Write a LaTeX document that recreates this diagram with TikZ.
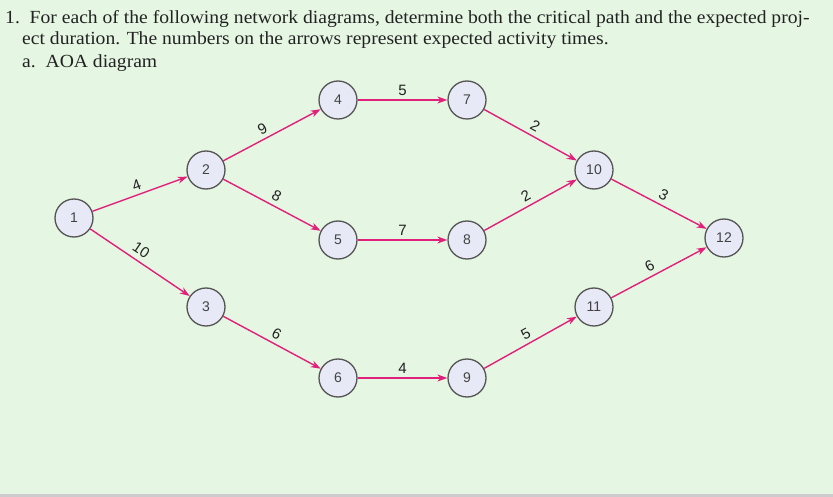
\documentclass[tikz,border=0pt]{standalone}
\usepackage{fontspec}
\setmainfont{Liberation Serif}[FakeStretch=1.06]
\newfontfamily\lblfont{Liberation Sans}
\usetikzlibrary{arrows.meta}
\definecolor{bgc}{HTML}{E5F6E3}
\definecolor{nodefill}{HTML}{E8E9F6}
\definecolor{nodeline}{HTML}{555555}
\definecolor{arrc}{HTML}{E0207A}
\definecolor{txt}{HTML}{222222}
\tikzset{
  ev/.style={circle, draw=nodeline, fill=nodefill, line width=1.3pt, minimum size=38pt, inner sep=0pt, font=\lblfont\fontsize{14}{14}\selectfont, text=txt!85},
  act/.style={draw=arrc, line width=1.4pt, -{Stealth[length=10pt,width=7pt]}},
  lab/.style={font=\lblfont\fontsize{15}{15}\selectfont, text=txt, sloped, above, inner sep=4pt},
  para/.style={anchor=base west, inner sep=0pt, font=\fontsize{18.5}{20}\selectfont, text=txt}
}
\begin{document}
\begin{tikzpicture}[x=1pt,y=-1pt]
\useasboundingbox (0,0) rectangle (833,497);
\fill[bgc] (0,0) rectangle (833,497);
\fill[black!20] (0,494) rectangle (833,497);
\node[para] (l1) at (5,24) {1.\ \ For each of the following network diagrams, determine both the critical path and the expected proj-};
\node[para] (l2) at (22,45) {ect duration. The numbers on the arrows represent expected activity times.};
\node[para] (l3) at (22,68) {a.\ \ AOA diagram};
\node[ev] (n1) at (74,218) {1};
\node[ev] (n2) at (206,170) {2};
\node[ev] (n3) at (206,307) {3};
\node[ev] (n4) at (338,100) {4};
\node[ev] (n5) at (338,240) {5};
\node[ev] (n6) at (338,378) {6};
\node[ev] (n7) at (467,100) {7};
\node[ev] (n8) at (467,240) {8};
\node[ev] (n9) at (467,378) {9};
\node[ev] (n10) at (594,170) {10};
\node[ev] (n11) at (594,307) {11};
\node[ev] (n12) at (724,238) {12};
\draw[act] (n1) -- node[lab]{4} (n2);
\draw[act] (n1) -- node[lab,pos=0.45,inner sep=5pt]{10} (n3);
\draw[act] (n2) -- node[lab,pos=0.45]{9} (n4);
\draw[act] (n2) -- node[lab]{8} (n5);
\draw[act] (n3) -- node[lab]{6} (n6);
\draw[act] (n4) -- node[lab]{5} (n7);
\draw[act] (n5) -- node[lab]{7} (n8);
\draw[act] (n6) -- node[lab]{4} (n9);
\draw[act] (n7) -- node[lab]{2} (n10);
\draw[act] (n8) -- node[lab]{2} (n10);
\draw[act] (n9) -- node[lab]{5} (n11);
\draw[act] (n10) -- node[lab]{3} (n12);
\draw[act] (n11) -- node[lab,pos=0.45]{6} (n12);
\end{tikzpicture}
\end{document}
